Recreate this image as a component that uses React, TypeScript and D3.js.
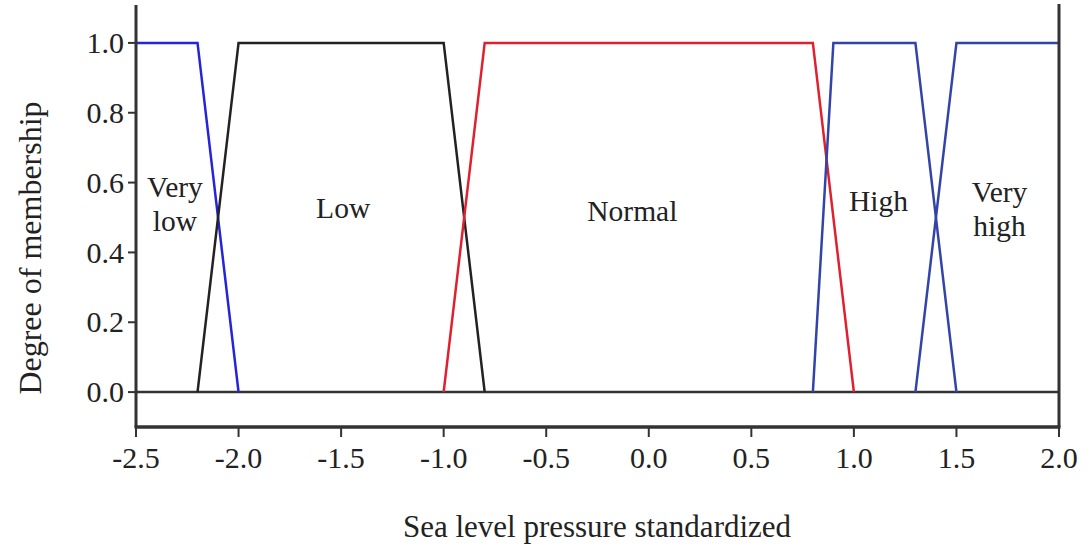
import React from "react";
import * as d3 from "d3";

const W = 1091;
const H = 549;

const xTicks = [-2.5, -2.0, -1.5, -1.0, -0.5, 0.0, 0.5, 1.0, 1.5, 2.0];
const yTicks = [0.0, 0.2, 0.4, 0.6, 0.8, 1.0];

const veryLowX = [-2.5, -2.2, -2.0];
const veryLowY = [1, 1, 0];
const lowX = [-2.2, -2.0, -1.0, -0.8];
const lowY = [0, 1, 1, 0];
const normalX = [-1.0, -0.8, 0.8, 1.0];
const normalY = [0, 1, 1, 0];
const highX = [0.8, 0.9, 1.3, 1.5];
const highY = [0, 1, 1, 0];
const veryHighX = [1.3, 1.5, 2.0];
const veryHighY = [0, 1, 1];

const seriesNames = ["Very low", "Low", "Normal", "High", "Very high"];
const seriesXs = [veryLowX, lowX, normalX, highX, veryHighX];
const seriesYs = [veryLowY, lowY, normalY, highY, veryHighY];
const seriesColors = ["#2424d8", "#222222", "#e0202e", "#3344a8", "#3344a8"];

// label anchors in data coords
const labelX = [-2.31, -1.49, -0.08, 1.12, 1.71];
const labelY = [0.56, 0.5, 0.49, 0.52, 0.545];
const labelLines = [["Very", "low"], ["Low"], ["Normal"], ["High"], ["Very", "high"]];

const FONT = "'Liberation Serif', 'Times New Roman', serif";

export default function App() {
  const x = d3.scaleLinear().domain([-2.5, 2.0]).range([136, 1059]);
  const y = d3.scaleLinear().domain([-0.1, 1.1]).range([427, 8]);
  const line = d3
    .line<[number, number]>()
    .x((d) => x(d[0]))
    .y((d) => y(d[1]));

  const axisColor = "#333";

  return (
    <svg
      width={W}
      height={H}
      style={{ position: "fixed", left: 0, top: 0, background: "#fff" }}
      fontFamily={FONT}
    >
      <rect x={0} y={0} width={W} height={H} fill="#fff" />
      {/* zero line */}
      <line x1={x(-2.5)} x2={x(2.0)} y1={y(0)} y2={y(0)} stroke={axisColor} strokeWidth={2.5} />
      {/* series */}
      {seriesXs.map((xs, i) => (
        <path
          key={seriesNames[i]}
          d={line(xs.map((v, j) => [v, seriesYs[i][j]] as [number, number])) || ""}
          fill="none"
          stroke={seriesColors[i]}
          strokeWidth={2.5}
          strokeLinejoin="miter"
        />
      ))}
      {/* frame: left, right, bottom */}
      <line x1={x(-2.5)} x2={x(-2.5)} y1={5} y2={y(-0.1)} stroke={axisColor} strokeWidth={3} />
      <line x1={x(2.0)} x2={x(2.0)} y1={4} y2={y(-0.1)} stroke={axisColor} strokeWidth={3} />
      <line x1={x(-2.5) - 1.5} x2={x(2.0) + 1.5} y1={y(-0.1)} y2={y(-0.1)} stroke={axisColor} strokeWidth={3.5} />
      {/* x ticks */}
      {xTicks.map((t) => (
        <g key={"xt" + t}>
          <line x1={x(t)} x2={x(t)} y1={y(-0.1)} y2={y(-0.1) + 10} stroke={axisColor} strokeWidth={2} />
          <text x={x(t)} y={468} textAnchor="middle" fontSize={30} fill="#222">
            {t.toFixed(1)}
          </text>
        </g>
      ))}
      {/* y ticks */}
      {yTicks.map((t) => (
        <g key={"yt" + t}>
          <line x1={x(-2.5) - 8} x2={x(-2.5)} y1={y(t)} y2={y(t)} stroke={axisColor} strokeWidth={2} />
          <text x={x(-2.5) - 12} y={y(t)} dy="0.34em" textAnchor="end" fontSize={30} fill="#222">
            {t.toFixed(1)}
          </text>
        </g>
      ))}
      {/* axis titles */}
      <text x={597} y={537} textAnchor="middle" fontSize={31} fill="#222">
        Sea level pressure standardized
      </text>
      <text
        transform={`translate(41, 248) rotate(-90)`}
        textAnchor="middle"
        fontSize={32}
        fill="#222"
      >
        Degree of membership
      </text>
      {/* region labels */}
      {labelLines.map((lines, i) => (
        <text
          key={"lbl" + i}
          x={x(labelX[i])}
          y={y(labelY[i])}
          textAnchor="middle"
          fontSize={29.5}
          fill="#222"
        >
          {lines.map((s, k) => (
            <tspan key={k} x={x(labelX[i])} dy={k === 0 ? 0 : 34}>
              {s}
            </tspan>
          ))}
        </text>
      ))}
    </svg>
  );
}
